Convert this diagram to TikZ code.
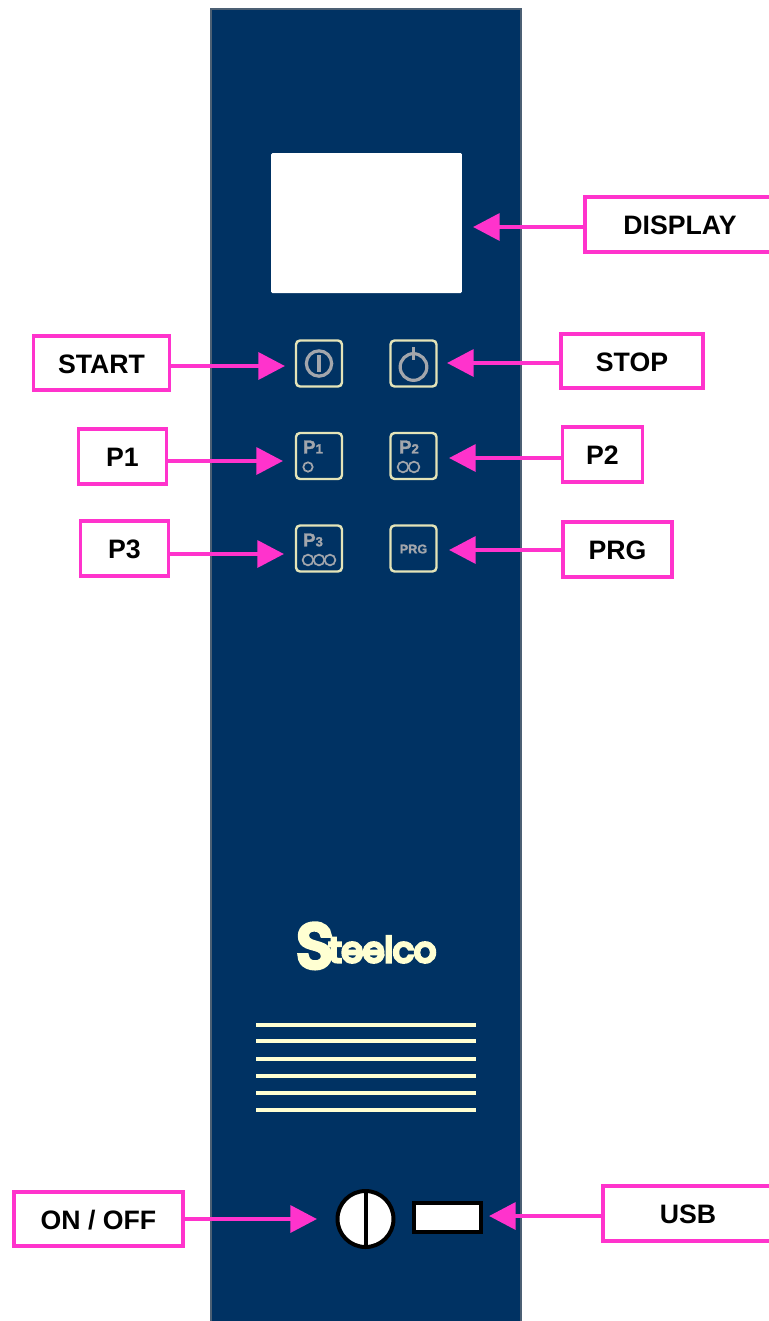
\documentclass[tikz,border=0pt]{standalone}
\usepackage{fontspec}
\setmainfont{Liberation Sans}
\newfontfamily\logofont[FakeBold=9]{Poppins}
\newfontfamily\keyfont[FakeBold=1.5]{Liberation Sans Bold}
\usetikzlibrary{arrows.meta}
\definecolor{panelblue}{HTML}{003263}
\definecolor{cream}{HTML}{FFFFD2}
\definecolor{keyedge}{HTML}{E4E4B8}
\definecolor{keygrey}{HTML}{A3A6AC}
\definecolor{callout}{HTML}{FF33CC}
\begin{document}
\begin{tikzpicture}[x=0.75pt, y=-0.75pt,
  lbl/.style={draw=callout, fill=white, line width=2.9pt, inner sep=0pt, text height=15.5pt, text depth=0pt, font=\fontsize{20}{22}\selectfont\bfseries},
  pointer/.style={draw=callout, line width=3.4pt, -{Triangle[length=20pt, width=20pt]}},
  key/.style={draw=keyedge, line width=1.8pt, rounded corners=3pt, minimum width=34.5pt, minimum height=34.5pt, inner sep=0pt},
  keytext/.style={text=keygrey, inner sep=0pt, font=\keyfont},
  ring/.style={draw=keygrey, line width=1.3pt, inner sep=0pt, circle},
  icon/.style={draw=keygrey, line width=2.4pt},
  stripe/.style={draw=cream, line width=2.3pt},
  edge/.style={draw=black, line width=3pt}]
\useasboundingbox (0,0) rectangle (768,1321);
\fill[panelblue] (211,9) rectangle (521,1330);
\draw[gray!60!panelblue, line width=0.8pt] (211,1330) -- (211,9) -- (521,9) -- (521,1330);
\node[fill=white, rounded corners=1pt, minimum width=143pt, minimum height=105pt, inner sep=0pt] (screen) at (366.5,223) {};

\node[key] (kstart) at (319,363.5) {};
\node[key] (kstop) at (413.5,363.5) {};
\node[key] (kp1) at (319,456) {};
\node[key] (kp2) at (413.5,456) {};
\node[key] (kp3) at (319,548.5) {};
\node[key] (kprg) at (413.5,548.5) {};

\node[icon, circle, minimum size=19pt, inner sep=0pt] (startring) at (kstart) {};
\coordinate (starttop) at (319,355);
\coordinate (startend) at (319,372);
\draw[icon] (starttop) -- (startend);
\node[icon, circle, minimum size=20pt, inner sep=0pt] (stopring) at (413.5,367) {};
\coordinate (stoptop) at (413.5,347);
\coordinate (stopend) at (413.5,360);
\draw[icon] (stoptop) -- (stopend);

\node[keytext] (p1text) at (313,447) {\fontsize{14}{14}\selectfont P\fontsize{10}{10}\selectfont 1};
\node[ring, minimum size=7pt] (p1a) at (308,467) {};
\node[keytext] (p2text) at (409,447) {\fontsize{14}{14}\selectfont P\fontsize{10}{10}\selectfont 2};
\node[ring, minimum size=8pt] (p2a) at (403,467) {};
\node[ring, minimum size=8pt] (p2b) at (414,467) {};
\node[keytext] (p3text) at (313,540) {\fontsize{14}{14}\selectfont P\fontsize{10}{10}\selectfont 3};
\node[ring, minimum size=8pt] (p3a) at (308,560) {};
\node[ring, minimum size=8pt] (p3b) at (319,560) {};
\node[ring, minimum size=8pt] (p3c) at (330,560) {};
\node[keytext] (prgtext) at (413.5,549) {\fontsize{9.5}{10}\selectfont PRG};

\node[text=cream, inner sep=0pt, anchor=base] (logo) at (366.5,962) {\logofont\raisebox{-4pt}{\fontsize{46}{46}\selectfont S}\kern-3pt\fontsize{26}{26}\selectfont teelco};

\draw[stripe] (256,1025) -- (476,1025);
\draw[stripe] (256,1041) -- (476,1041);
\draw[stripe] (256,1059) -- (476,1059);
\draw[stripe] (256,1076) -- (476,1076);
\draw[stripe] (256,1093) -- (476,1093);
\draw[stripe] (256,1110) -- (476,1110);

\node[edge, circle, fill=white, minimum size=42pt, inner sep=0pt] (power) at (365.5,1219) {};
\draw[edge] (power.north) -- (power.south);
\node[edge, fill=white, minimum width=50pt, minimum height=22pt, inner sep=0pt] (usb) at (447.5,1217.5) {};

\node[lbl, minimum width=142.5pt, minimum height=41pt] (ldisplay) at (680,224.5) {DISPLAY};
\node[lbl, minimum width=102pt, minimum height=40pt] (lstart) at (101.5,363) {START};
\node[lbl, minimum width=107pt, minimum height=40pt] (lstop) at (632,361) {STOP};
\node[lbl, minimum width=66pt, minimum height=41pt] (lp1) at (122.5,456.5) {P1};
\node[lbl, minimum width=60pt, minimum height=41pt] (lp2) at (602.5,454.5) {P2};
\node[lbl, minimum width=66pt, minimum height=41pt] (lp3) at (124.5,548.5) {P3};
\node[lbl, minimum width=82pt, minimum height=41pt] (lprg) at (617.5,549.5) {PRG};
\node[lbl, minimum width=127pt, minimum height=40pt] (lonoff) at (98.5,1219) {ON / OFF};
\node[lbl, minimum width=127pt, minimum height=41pt] (lusb) at (688,1213.5) {USB};

\coordinate (tdisplay) at (473,227);
\coordinate (tstart) at (285,366);
\coordinate (tstop) at (447,363);
\coordinate (tp1) at (283,461);
\coordinate (tp2) at (449,458);
\coordinate (tp3) at (284,554);
\coordinate (tprg) at (449,550);
\coordinate (tonoff) at (317,1219);
\coordinate (tusb) at (489,1216);

\draw[pointer] (ldisplay.west |- tdisplay) -- (tdisplay);
\draw[pointer] (lstart.east |- tstart) -- (tstart);
\draw[pointer] (lstop.west |- tstop) -- (tstop);
\draw[pointer] (lp1.east |- tp1) -- (tp1);
\draw[pointer] (lp2.west |- tp2) -- (tp2);
\draw[pointer] (lp3.east |- tp3) -- (tp3);
\draw[pointer] (lprg.west |- tprg) -- (tprg);
\draw[pointer] (lonoff.east |- tonoff) -- (tonoff);
\draw[pointer] (lusb.west |- tusb) -- (tusb);
\end{tikzpicture}
\end{document}
